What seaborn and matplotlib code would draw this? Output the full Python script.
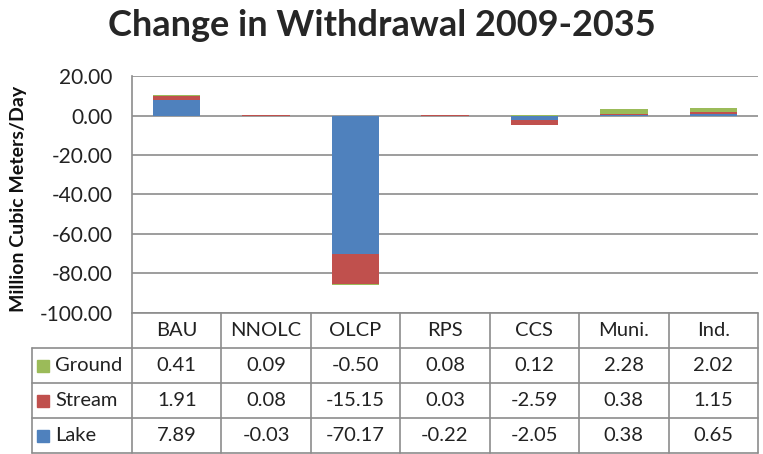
import matplotlib
matplotlib.use("Agg")
import matplotlib.pyplot as plt
import seaborn as sns
import numpy as np
import pandas as pd

# === DATA ===
scenarios = ['BAU', 'NNOLC', 'OLCP', 'RPS', 'CCS', 'Muni.', 'Ind.']
ground = [0.41, 0.09, -0.50, 0.08, 0.12, 2.28, 2.02]
stream = [1.91, 0.08, -15.15, 0.03, -2.59, 0.38, 1.15]
lake = [7.89, -0.03, -70.17, -0.22, -2.05, 0.38, 0.65]
yticks = [20, 0, -20, -40, -60, -80, -100]

# stacking order (bottom first) and table order (top first)
stack = [('Lake', lake, '#4F81BD'), ('Stream', stream, '#C0504D'), ('Ground', ground, '#9BBB59')]
table_rows = [('Ground', ground, '#9BBB59'), ('Stream', stream, '#C0504D'), ('Lake', lake, '#4F81BD')]

# === STYLE ===
sns.set_theme(style="white")
plt.rcParams['font.family'] = ['Lato', 'DejaVu Sans']
grid_col = '#8c8c8c'

fig = plt.figure(figsize=(7.63, 4.54), dpi=100)
ax = fig.add_axes([132 / 763, 1 - 313 / 454, 626 / 763, 237 / 454])

# Excel-style stacking: positives go up, negatives go down
pos_base = np.zeros(len(scenarios))
neg_base = np.zeros(len(scenarios))
for name, vals, color in stack:
    v = np.array(vals)
    bottom = np.where(v >= 0, pos_base, neg_base)
    df = pd.DataFrame({'scenario': scenarios, 'value': v})
    sns.barplot(data=df, x='scenario', y='value', bottom=bottom, color=color,
                saturation=1, width=0.53, errorbar=None, linewidth=0, ax=ax)
    pos_base = pos_base + np.where(v >= 0, v, 0)
    neg_base = neg_base + np.where(v < 0, v, 0)

ax.set_xlim(-0.5, len(scenarios) - 0.5)
ax.set_ylim(-100, 20)
ax.set_yticks(yticks)
ax.set_yticklabels([f'{t:.2f}' for t in yticks], fontsize=15, color='#222222')
ax.tick_params(axis='y', length=0, pad=14)
ax.tick_params(axis='x', length=0, labelbottom=False)
ax.set_xlabel('')
ax.set_ylabel('Million Cubic Meters/Day', fontsize=14, fontweight='bold', color='#111111')
ax.yaxis.set_label_coords(-0.168, 0.48)
ax.grid(axis='y', color=grid_col, linewidth=1.2)
ax.set_axisbelow(True)
for side in ['top', 'right', 'bottom']:
    ax.spines[side].set_visible(False)
ax.spines['left'].set_color(grid_col)
ax.spines['left'].set_linewidth(1.2)

fig.suptitle('Change in Withdrawal 2009-2035', fontsize=26, fontweight='bold', y=0.98)

# === DATA TABLE ===
row_h = 35 / 237
n = len(scenarios)
left_x = (32 - 132) / 626
tkw = dict(transform=ax.transAxes, clip_on=False, color=grid_col, linewidth=1.2)
col_edges = [i / n for i in range(n + 1)]

# horizontal lines
ax.plot([0, 1], [0, 0], **tkw)
for r in range(1, 5):
    ax.plot([left_x, 1], [-r * row_h, -r * row_h], **tkw)
# vertical lines
for xe in col_edges:
    ax.plot([xe, xe], [0, -4 * row_h], **tkw)
ax.plot([left_x, left_x], [-row_h, -4 * row_h], **tkw)

txt_kw = dict(transform=ax.transAxes, fontsize=14.5, color='#222222', va='center', clip_on=False)
for i, s in enumerate(scenarios):
    ax.text((i + 0.5) / n, -0.5 * row_h, s, ha='center', **txt_kw)
for r, (name, vals, color) in enumerate(table_rows):
    yc = -(r + 1.5) * row_h
    ax.plot([(43 - 132) / 626], [yc], marker='s', markersize=8, color=color,
            transform=ax.transAxes, clip_on=False, linestyle='none')
    ax.text((55 - 132) / 626, yc, name, ha='left', **txt_kw)
    for i, v in enumerate(vals):
        ax.text((i + 0.5) / n, yc, f'{v:.2f}', ha='center', **txt_kw)

fig.savefig('out.png', dpi=100)
